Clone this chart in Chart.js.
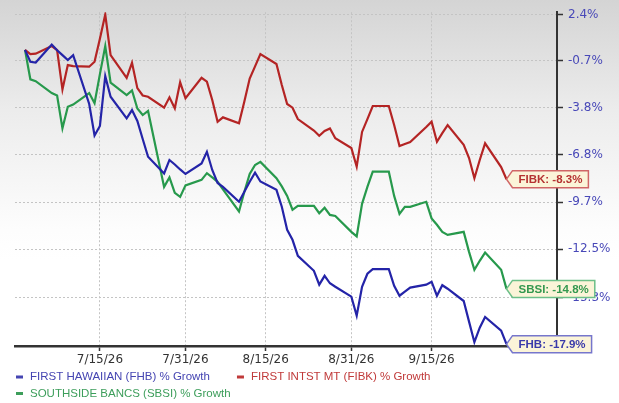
<!DOCTYPE html>
<html>
<head>
<meta charset="utf-8">
<script src="https://cdn.jsdelivr.net/npm/chart.js@4.4.1/dist/chart.umd.min.js"></script>
<style>
  html, body { margin: 0; padding: 0; background: #fff; }
  #wrap {
    position: relative; width: 619px; height: 403px;
    background: linear-gradient(to bottom, #d4d4d4 0px, #ececec 110px, #fdfdfd 230px, #ffffff 260px);
  }
</style>
</head>
<body>
<div id="wrap"><canvas id="growth"></canvas></div>
<script>
/* --------------- Data --------------------- */
const dates = [
  "7/1", "7/2", "7/3", "7/6", "7/7", "7/8", "7/9", "7/10", "7/13", "7/14",
  "7/15", "7/16", "7/17", "7/20", "7/21", "7/22", "7/23", "7/24", "7/27", "7/28",
  "7/29", "7/30", "7/31", "8/3", "8/4", "8/5", "8/6", "8/7", "8/10", "8/11",
  "8/12", "8/13", "8/14", "8/17", "8/18", "8/19", "8/20", "8/21", "8/24", "8/25",
  "8/26", "8/27", "8/28", "8/31", "9/1", "9/2", "9/3", "9/4", "9/7", "9/8",
  "9/9", "9/10", "9/11", "9/14", "9/15", "9/16", "9/17", "9/18", "9/21", "9/22",
  "9/23", "9/24", "9/25", "9/28", "9/29",
];
const tickers = ["FHB", "FIBK", "SBSI"];
const names = ["FIRST HAWAIIAN", "FIRST INTST MT", "SOUTHSIDE BANCS"];

const fhbGrowth = [
  0, -0.79, -0.84, 0.36, -0.02, -0.35, -0.68, -0.35, -3.56, -5.57,
  -4.97, -1.74, -3.09, -4.48, -3.95, -4.65, -5.8, -6.91, -7.95, -7.11,
  -7.39, -7.70, -7.98, -7.33, -6.60, -7.73, -8.53, -8.77, -9.68, -9.07,
  -8.46, -7.90, -8.44, -8.95, -9.98, -11.36, -11.95, -12.89, -13.76, -14.56,
  -14.05, -14.48, -14.68, -15.24, -16.32, -14.68, -13.93, -13.66, -13.66, -14.62,
  -15.19, -14.96, -14.73, -14.56, -14.39, -15.19, -14.59, -14.79, -15.49, -16.65,
  -17.79, -16.99, -16.39, -17.15, -17.9,
];
const fibkGrowth = [
  0, -0.28, -0.25, 0.26, -0.02, -2.61, -1.01, -1.08, -1.12, -0.79,
  0.75, 2.4, -0.35, -1.85, -0.86, -2.53, -3.01, -3.09, -3.80, -3.13,
  -3.84, -2.15, -3.19, -1.85, -2.11, -3.30, -4.70, -4.42, -4.80, -3.4,
  -1.9, -1.1, -0.28, -0.94, -2.33, -3.56, -3.80, -4.53, -5.26, -5.59,
  -5.29, -5.13, -5.75, -6.36, -7.53, -5.35, -4.53, -3.69, -3.69, -4.91,
  -6.24, -6.11, -5.99, -5.04, -4.70, -5.97, -5.42, -4.91, -6.17, -6.99,
  -8.24, -7.11, -6.07, -7.55, -8.3,
];
const sbsiGrowth = [
  0, -1.95, -2.07, -2.85, -3.01, -5.12, -3.74, -3.60, -2.85, -3.51,
  -1.61, 0.26, -2.17, -2.98, -2.68, -3.85, -4.27, -4.01, -8.77, -8.19,
  -9.14, -9.38, -8.68, -8.34, -7.93, -8.19, -8.46, -8.93, -10.26, -9.07,
  -7.98, -7.42, -7.23, -8.24, -8.74, -9.32, -10.16, -9.92, -9.92, -10.37,
  -10.04, -10.47, -10.53, -11.48, -11.75, -9.80, -8.77, -7.83, -7.83, -9.32,
  -10.41, -9.98, -9.98, -9.68, -10.68, -11.06, -11.48, -11.66, -11.48, -12.66,
  -13.70, -13.18, -12.70, -13.70, -14.8,
];

const xTickLabels = ["7/15/26", "7/31/26", "8/15/26", "8/31/26", "9/15/26"];
const yTickLabels = [2.4, -0.7, -3.8, -6.8, -9.7, -12.5, -15.3];

/* --------------- Colors --------------------- */
const lineColors = ["#2424a8", "#b42424", "#27994c"];
const textColors = ["#4545b2", "#c03a3a", "#3d9e5b"];
const boxBorders = ["#7676cc", "#d06666", "#6cbf88"];
const boxText = ["#3a3aaa", "#b53232", "#34984f"];

/* --------------- Helpers --------------------- */
const dayOf = (s) => {
  const [m, d] = s.split("/").map(Number);
  return (Date.UTC(2026, m - 1, d) - Date.UTC(2026, 6, 1)) / 86400000;
};
const tickDay = (s) => dayOf(s.split("/").slice(0, 2).join("/"));
const toPoints = (arr) => arr.map((p, i) => ({ x: dayOf(dates[i]), y: 1 + p / 100 }));
const series = [fhbGrowth, fibkGrowth, sbsiGrowth];

/* --------------- Value tag at the end of each line --------------------- */
const endLabels = {
  id: "endLabels",
  afterDraw(chart) {
    const ctx = chart.ctx;
    ctx.save();
    ctx.font = "bold 11.5px 'Liberation Sans', Arial, sans-serif";
    ctx.textBaseline = "middle";
    chart.data.datasets.forEach((ds, i) => {
      const pts = chart.getDatasetMeta(i).data;
      const last = pts[pts.length - 1];
      const vals = series[i];
      const txt = tickers[i] + ": " + vals[vals.length - 1].toFixed(1) + "%";
      const w = ctx.measureText(txt).width + 12;
      const h = 17, x = last.x, y = last.y;
      ctx.beginPath();
      ctx.moveTo(x, y);
      ctx.lineTo(x + 6, y - h / 2);
      ctx.lineTo(x + 6 + w, y - h / 2);
      ctx.lineTo(x + 6 + w, y + h / 2);
      ctx.lineTo(x + 6, y + h / 2);
      ctx.closePath();
      ctx.fillStyle = "#fbf4d8";
      ctx.fill();
      ctx.lineWidth = 1.5;
      ctx.strokeStyle = boxBorders[i];
      ctx.stroke();
      ctx.fillStyle = boxText[i];
      ctx.fillText(txt, x + 12, y + 0.5);
    });
    ctx.restore();
  },
};

/* --------------- Legend under the axis --------------------- */
const bottomLegend = {
  id: "bottomLegend",
  afterDraw(chart) {
    const ctx = chart.ctx;
    ctx.save();
    ctx.font = "11.5px 'Liberation Sans', Arial, sans-serif";
    ctx.textBaseline = "middle";
    let x = 16, y = 377;
    chart.data.datasets.forEach((ds, i) => {
      const w = 14 + ctx.measureText(ds.label).width;
      if (x > 16 && x + w > chart.width - 10) { x = 16; y += 16.5; }
      ctx.fillStyle = textColors[i];
      ctx.fillRect(x, y - 1.5, 7, 3);
      ctx.fillText(ds.label, x + 14, y);
      x += w + 27;
    });
    ctx.restore();
  },
};

/* --------------- Chart --------------------- */
new Chart(document.getElementById("growth"), {
  type: "line",
  plugins: [endLabels, bottomLegend],
  data: {
    datasets: series.map((arr, i) => ({
      label: names[i] + " (" + tickers[i] + ") % Growth",
      data: toPoints(arr),
      borderColor: lineColors[i],
      backgroundColor: lineColors[i],
      borderWidth: 2.2,
      pointRadius: 0,
      tension: 0,
    })),
  },
  options: {
    responsive: true,
    maintainAspectRatio: false,
    animation: false,
    layout: { padding: { left: 15, top: 12, right: 0, bottom: 33 } },
    plugins: { legend: { display: false }, tooltip: { enabled: false } },
    scales: {
      x: {
        type: "linear",
        min: -1.87,
        max: 99.44,
        afterBuildTicks: (scale) => {
          scale.ticks = xTickLabels.map((s) => ({ value: tickDay(s) }));
        },
        afterFit: (scale) => { scale.height = 24; },
        ticks: {
          callback: (v) => xTickLabels[xTickLabels.findIndex((s) => tickDay(s) === v)],
          color: "#333",
          font: { family: "'DejaVu Sans'", size: 12 },
          padding: 2,
          maxRotation: 0,
          autoSkip: false,
        },
        grid: { color: "#c4c4c4", tickColor: "#333", tickLength: 5, tickWidth: 1.5, tickBorderDash: [] },
        border: { display: true, color: "#333", width: 2.5, dash: [2, 2] },
      },
      y: {
        type: "logarithmic",
        position: "right",
        min: 0.8202,
        max: 1.0256,
        afterBuildTicks: (scale) => {
          scale.ticks = yTickLabels.map((p) => ({ value: 1 + p / 100 }));
        },
        afterFit: (scale) => { scale.width = 62; },
        ticks: {
          callback: (v) => ((v - 1) * 100).toFixed(1) + "%",
          color: "#4848b8",
          font: { family: "'DejaVu Sans'", size: 12 },
          padding: 5,
          autoSkip: false,
        },
        grid: { color: "#c4c4c4", tickColor: "#333", tickLength: 6, tickWidth: 1.5, tickBorderDash: [] },
        border: { display: true, color: "#333", width: 2, dash: [2, 2] },
      },
    },
  },
});
</script>
</body>
</html>
